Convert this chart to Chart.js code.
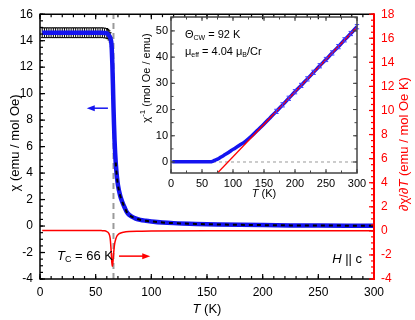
<!DOCTYPE html>
<html><head><meta charset="utf-8">
<script src="https://cdn.jsdelivr.net/npm/chart.js@4/dist/chart.umd.min.js"></script>
<style>
html,body{margin:0;padding:0;background:#fff;}
#wrap{position:relative;width:415px;height:320px;}
canvas{position:absolute;left:0;top:0;}
#inset{pointer-events:none;}
</style></head><body>
<div id="wrap"><canvas id="main" width="415" height="320"></canvas><canvas id="inset" width="415" height="320"></canvas></div>
<script>
// ---- main panel: susceptibility chi(T) (left axis) ----
const chiT = [2,4,6,8,10,12,14,16,18,20,22,24,26,28,30,32,34,36,38,40,42,44,46,48,50,52,54,56,58,60,61,62,63,64,64.5,65,65.5,66,66.5,67,67.5,68,69,70,72,74,76,78,80,85,90,95,100,110,120,140,160,180,200,225,250,275,300];
const chiV = [14.6,14.6,14.6,14.6,14.6,14.6,14.6,14.6,14.6,14.6,14.6,14.6,14.6,14.6,14.6,14.6,14.6,14.6,14.6,14.6,14.6,14.6,14.6,14.6,14.6,14.6,14.6,14.6,14.58,14.55,14.5,14.4,14.25,13.9,13.3,12.2,10.7,9.0,7.6,6.4,5.5,4.8,3.8,3.1,2.3,1.8,1.4,1.05,0.85,0.6,0.47,0.4,0.35,0.27,0.22,0.16,0.12,0.09,0.07,0.05,0.04,0.03,0.02];
const chiErr = [0.37,0.37,0.37,0.37,0.37,0.37,0.37,0.37,0.37,0.37,0.37,0.37,0.37,0.37,0.37,0.37,0.37,0.37,0.37,0.37,0.37,0.37,0.37,0.37,0.37,0.37,0.37,0.37,0.37,0.37,0.35,0.35,0.35,0.35,0,0,0,0,0,0,0.35,0,0,0,0,0,0,0,0,0,0,0,0,0,0,0,0,0,0,0,0,0,0];
// ---- main panel: d chi / dT (right axis) ----
const dchiT = [2,10,20,30,40,50,55,58,60,61,62,63,63.5,64,64.5,65,65.5,66,66.5,67,68,69,70,72,75,80,90,100,150,200,250,300];
const dchiV = [0.03,0.03,0.03,0.03,0.03,0.03,0.02,0.0,-0.06,-0.12,-0.25,-0.6,-1.1,-1.8,-2.6,-2.95,-2.6,-2.0,-1.5,-1.1,-0.7,-0.45,-0.32,-0.2,-0.12,-0.06,-0.03,-0.01,0,0,0,0];
// ---- T_C marker ----
const tcT = [66,66];
const tcV = [-4,16];
// ---- inset: inverse susceptibility and Curie-Weiss fit ----
const invT = [2,10,20,30,40,50,60,64,66,68,70,72,75,80,85,90,95,100,110,120,130,140,150,160,170,180,190,200,210,220,230,240,250,260,270,280,290,300];
const invV = [0.07,0.07,0.07,0.07,0.07,0.07,0.07,0.08,0.15,0.35,0.6,0.8,1.1,1.8,2.5,3.2,4.0,4.8,6.3,7.9,9.9,12.2,14.5,16.9,19.3,21.8,24.3,26.8,29.2,31.7,34.2,36.7,39.1,41.6,44.0,46.6,49.0,51.6];
const invErr = [0,0,0,0,0,0,0,0,0,0,0,0,0,0,0,0,0,0,0,0,0,0,0,0,0.8,0.8,0.8,0.8,0.8,0.8,0.8,0.8,0.8,0.8,0.8,0.8,0.8,0.8];
const fitT = [75,300];
const fitV = [-4.2,51.5];
const zeroT = [0,300];
const zeroV = [0,0];
// ---- tick labels ----
const mainXTicks = [0,50,100,150,200,250,300];
const mainYTicks = [-4,-2,0,2,4,6,8,10,12,14,16];
const mainY2Ticks = [-4,-2,0,2,4,6,8,10,12,14,16,18];
const insetXTicks = [0,50,100,150,200,250,300];
const insetYTicks = [0,10,20,30,40,50];

const FF = '"Liberation Sans", Arial, Helvetica, sans-serif';
const pts = (xs, ys) => xs.map((x, i) => ({x: x, y: ys[i]}));
const fixTicks = arr => s => { s.ticks = arr.map(v => ({value: v})); };

function rich(ctx, parts, x, y, align, rot, color) {
  ctx.save();
  ctx.translate(x, y);
  ctx.rotate(rot || 0);
  ctx.fillStyle = color || '#000';
  ctx.textAlign = 'left';
  ctx.textBaseline = 'middle';
  const fnt = p => (p.i ? 'italic ' : '') + p.s + 'px ' + FF;
  let w = 0;
  parts.forEach(p => { ctx.font = fnt(p); w += ctx.measureText(p.t).width; });
  let cx = align === 'center' ? -w / 2 : (align === 'right' ? -w : 0);
  parts.forEach(p => {
    ctx.font = fnt(p);
    ctx.fillText(p.t, cx, p.dy || 0);
    cx += ctx.measureText(p.t).width;
  });
  ctx.restore();
}

function tickSet(ctx, scale, from, to, step, len, side, area) {
  for (let v = from; v <= to + 1e-9; v += step) {
    const p = scale.getPixelForValue(v);
    ctx.beginPath();
    if (side === 'bottom') { ctx.moveTo(p, area.bottom); ctx.lineTo(p, area.bottom - len); }
    if (side === 'top') { ctx.moveTo(p, area.top); ctx.lineTo(p, area.top + len); }
    if (side === 'left') { ctx.moveTo(area.left, p); ctx.lineTo(area.left + len, p); }
    if (side === 'right') { ctx.moveTo(area.right, p); ctx.lineTo(area.right - len, p); }
    ctx.stroke();
  }
}

function arrow(ctx, x1, y1, x2, y2, color) {
  ctx.save();
  ctx.strokeStyle = color; ctx.fillStyle = color; ctx.lineWidth = 1.5;
  const dir = Math.sign(x2 - x1);
  ctx.beginPath(); ctx.moveTo(x1, y1); ctx.lineTo(x2 - dir * 6, y2); ctx.stroke();
  ctx.beginPath(); ctx.moveTo(x2, y2); ctx.lineTo(x2 - dir * 8, y2 - 3); ctx.lineTo(x2 - dir * 8, y2 + 3); ctx.closePath(); ctx.fill();
  ctx.restore();
}

function errBars(ctx, xs, ys, es, sx, sy, color, half, lw) {
  ctx.save();
  ctx.strokeStyle = color; ctx.lineWidth = lw;
  xs.forEach((x, i) => {
    if (!es[i]) return;
    const px = sx.getPixelForValue(x);
    const a = sy.getPixelForValue(ys[i] + es[i]);
    const b = sy.getPixelForValue(ys[i] - es[i]);
    ctx.beginPath();
    ctx.moveTo(px, a); ctx.lineTo(px, b);
    ctx.moveTo(px - half, a); ctx.lineTo(px + half, a);
    ctx.moveTo(px - half, b); ctx.lineTo(px + half, b);
    ctx.stroke();
  });
  ctx.restore();
}

const mainDecor = {
  id: 'mainDecor',
  beforeDatasetsDraw(chart) {
    const s = chart.scales;
    errBars(chart.ctx, chiT, chiV, chiErr, s.x, s.y, '#000', 1.4, 1);
  },
  afterDraw(chart) {
    const ctx = chart.ctx, a = chart.chartArea, s = chart.scales;
    ctx.save();
    // frame
    ctx.lineWidth = 1.5; ctx.strokeStyle = '#000';
    ctx.beginPath();
    ctx.moveTo(a.right, a.top); ctx.lineTo(a.left, a.top); ctx.lineTo(a.left, a.bottom); ctx.lineTo(a.right, a.bottom);
    ctx.stroke();
    ctx.lineWidth = 1.2;
    tickSet(ctx, s.x, 0, 300, 50, 5, 'bottom', a);
    tickSet(ctx, s.x, 0, 300, 10, 3, 'bottom', a);
    tickSet(ctx, s.x, 0, 300, 50, 5, 'top', a);
    tickSet(ctx, s.x, 0, 300, 10, 3, 'top', a);
    tickSet(ctx, s.y, -4, 16, 2, 5, 'left', a);
    tickSet(ctx, s.y, -4, 16, 0.5, 3, 'left', a);
    ctx.strokeStyle = '#ff0000';
    tickSet(ctx, s.y2, -4, 18, 2, 5, 'right', a);
    tickSet(ctx, s.y2, -4, 18, 0.5, 3, 'right', a);
    ctx.lineWidth = 2;
    ctx.beginPath(); ctx.moveTo(a.right, a.top - 1); ctx.lineTo(a.right, a.bottom + 1); ctx.stroke();
    // axis titles
    rich(ctx, [{t: '\u03C7 (emu / mol Oe)', s: 13}], 15, 143, 'center', -Math.PI / 2, '#000');
    rich(ctx, [{t: '\u2202\u03C7/\u2202', s: 13}, {t: 'T', s: 13, i: 1}, {t: ' (emu / mol Oe K)', s: 13}], 404, 144, 'center', -Math.PI / 2, '#ff0000');
    rich(ctx, [{t: 'T', s: 13, i: 1}, {t: ' (K)', s: 13}], 207, 309, 'center', 0, '#000');
    // annotations
    rich(ctx, [{t: 'T', s: 13, i: 1}, {t: 'C', s: 9, dy: 4}, {t: ' = 66 K', s: 13}], 57, 256, 'left', 0, '#000');
    rich(ctx, [{t: 'H', s: 13, i: 1}, {t: ' || c', s: 13}], 362, 259, 'right', 0, '#000');
    // arrows
    const yb = s.y.getPixelForValue(8.9);
    arrow(ctx, s.x.getPixelForValue(61), yb, s.x.getPixelForValue(42), yb, '#1515f0');
    const yr = s.y2.getPixelForValue(-2.1);
    arrow(ctx, s.x.getPixelForValue(71), yr, s.x.getPixelForValue(99), yr, '#ff0000');
    ctx.restore();
  }
};

new Chart(document.getElementById('main'), {
  type: 'line',
  data: {datasets: [
    {data: pts(dchiT, dchiV), yAxisID: 'y2', borderColor: '#ff0000', borderWidth: 1.5, pointRadius: 0, cubicInterpolationMode: 'monotone', order: 0},
    {data: pts(chiT.slice(41), chiV.slice(41)), yAxisID: 'y', borderColor: '#000', borderWidth: 2, borderDash: [4, 4], pointRadius: 0, cubicInterpolationMode: 'monotone', order: 1},
    {data: pts(chiT, chiV), yAxisID: 'y', borderColor: '#1414f0', borderWidth: 4.5, pointRadius: 0, cubicInterpolationMode: 'monotone', order: 2},
    {data: pts(tcT, tcV), yAxisID: 'y', borderColor: '#9a9a9a', borderWidth: 2, borderDash: [6, 4], pointRadius: 0, order: 3}
  ]},
  options: {
    responsive: false, animation: false, devicePixelRatio: 1,
    layout: {padding: {top: 8, left: 0, right: 0, bottom: 0}},
    plugins: {legend: {display: false}, tooltip: {enabled: false}},
    scales: {
      x: {type: 'linear', min: 0, max: 300, afterBuildTicks: fixTicks(mainXTicks),
          ticks: {color: '#000', padding: 6, font: {size: 12, family: FF}},
          grid: {display: false, drawTicks: false}, border: {display: false},
          afterFit: s => { s.height = 41; }},
      y: {position: 'left', min: -4, max: 16, afterBuildTicks: fixTicks(mainYTicks),
          ticks: {color: '#000', padding: 7, font: {size: 12, family: FF}},
          grid: {display: false, drawTicks: false}, border: {display: false},
          afterFit: s => { s.width = 40; }},
      y2: {position: 'right', min: -4, max: 18, afterBuildTicks: fixTicks(mainY2Ticks),
          ticks: {color: '#ff0000', padding: 7, font: {size: 12, family: FF}},
          grid: {display: false, drawTicks: false}, border: {display: false},
          afterFit: s => { s.width = 41; }}
    }
  },
  plugins: [mainDecor]
});

const insetDecor = {
  id: 'insetDecor',
  afterDraw(chart) {
    const ctx = chart.ctx, a = chart.chartArea, s = chart.scales;
    errBars(ctx, invT, invV, invErr, s.x, s.y, '#3c3cff', 2.2, 1);
    ctx.save();
    ctx.lineWidth = 1.5; ctx.strokeStyle = '#444';
    ctx.strokeRect(a.left, a.top, a.right - a.left, a.bottom - a.top);
    ctx.lineWidth = 1;
    tickSet(ctx, s.x, 0, 300, 50, 4, 'bottom', a);
    tickSet(ctx, s.x, 0, 300, 25, 2.5, 'bottom', a);
    tickSet(ctx, s.x, 0, 300, 50, 4, 'top', a);
    tickSet(ctx, s.x, 0, 300, 25, 2.5, 'top', a);
    tickSet(ctx, s.y, 0, 55, 10, 4, 'left', a);
    tickSet(ctx, s.y, 0, 55, 5, 2.5, 'left', a);
    tickSet(ctx, s.y, 0, 55, 10, 4, 'right', a);
    tickSet(ctx, s.y, 0, 55, 5, 2.5, 'right', a);
    rich(ctx, [{t: '\u03C7', s: 11}, {t: '-1', s: 8, dy: -4}, {t: ' (mol Oe / emu)', s: 11}], 147, 78, 'center', -Math.PI / 2, '#000');
    rich(ctx, [{t: 'T', s: 11, i: 1}, {t: ' (K)', s: 11}], 264, 194, 'center', 0, '#000');
    rich(ctx, [{t: '\u0398', s: 11}, {t: 'CW', s: 7, dy: 3}, {t: ' = 92 K', s: 11}], 185, 35, 'left', 0, '#000');
    rich(ctx, [{t: '\u03BC', s: 11}, {t: 'eff', s: 7, dy: 3}, {t: ' = 4.04 \u03BC', s: 11}, {t: 'B', s: 7, dy: 3}, {t: '/Cr', s: 11}], 185, 52, 'left', 0, '#000');
    ctx.restore();
  }
};

new Chart(document.getElementById('inset'), {
  type: 'line',
  data: {datasets: [
    {data: pts(fitT, fitV), borderColor: '#ff0000', borderWidth: 1.3, pointRadius: 0, order: 0},
    {data: pts(invT, invV), borderColor: '#1414f0', borderWidth: 3.5, pointRadius: 0, cubicInterpolationMode: 'monotone', order: 1},
    {data: pts(zeroT, zeroV), borderColor: '#9a9a9a', borderWidth: 1, borderDash: [3, 3], pointRadius: 0, order: 2}
  ]},
  options: {
    responsive: false, animation: false, devicePixelRatio: 1,
    layout: {padding: {top: 17, left: 0, right: 58, bottom: 0}},
    plugins: {legend: {display: false}, tooltip: {enabled: false}},
    scales: {
      x: {type: 'linear', min: 0, max: 300, afterBuildTicks: fixTicks(insetXTicks),
          ticks: {color: '#000', padding: 4, font: {size: 11, family: FF}},
          grid: {display: false, drawTicks: false}, border: {display: false},
          afterFit: s => { s.height = 147; }},
      y: {position: 'left', min: -4.2, max: 55.3, afterBuildTicks: fixTicks(insetYTicks),
          ticks: {color: '#000', padding: 3, font: {size: 11, family: FF}},
          grid: {display: false, drawTicks: false}, border: {display: false},
          afterFit: s => { s.width = 171; }}
    }
  },
  plugins: [insetDecor]
});
</script>
</body></html>
